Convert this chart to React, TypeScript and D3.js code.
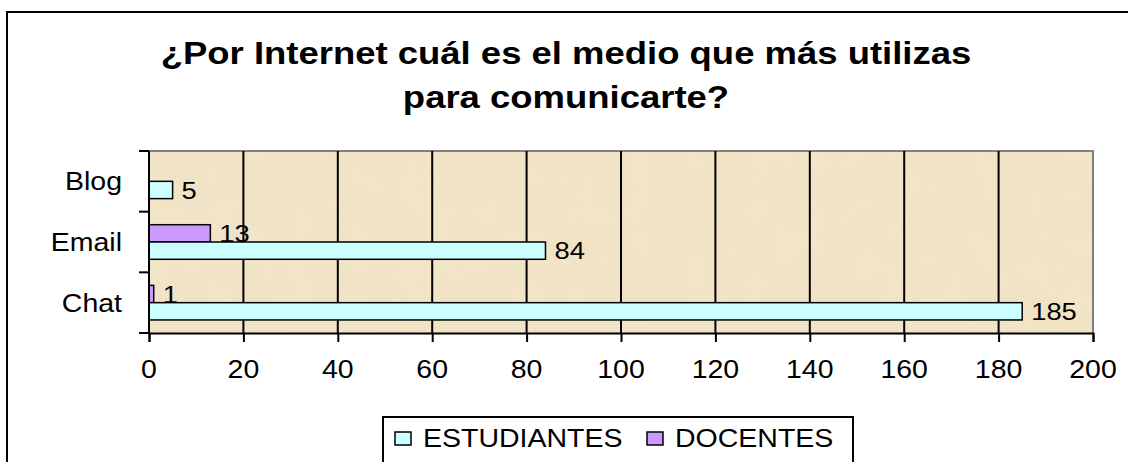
import { useEffect, useRef } from "react";
import * as d3 from "d3";

const categories = ["Blog", "Email", "Chat"];
const series = ["DOCENTES", "ESTUDIANTES"];
const estudiantes = [5, 84, 185];
const docentes: (number | null)[] = [null, 13, 1];
const xTicks = [0, 20, 40, 60, 80, 100, 120, 140, 160, 180, 200];
const titleLines = ["¿Por Internet cuál es el medio que más utilizas", "para comunicarte?"];
const legendItems = ["ESTUDIANTES", "DOCENTES"];

const colors: Record<string, string> = { ESTUDIANTES: "#CCFFFF", DOCENTES: "#CC99FF" };
const font = "'Liberation Sans', Arial, sans-serif";
const SX = 1.14; // the source picture is a little stretched sideways

export default function App() {
  const ref = useRef<SVGSVGElement>(null);
  useEffect(() => {
    if (!ref.current) return;
    const svg = d3.select(ref.current);
    svg.selectAll("*").remove();
    const W = 1128, H = 462;
    const m = { t: 151, r: 35, b: 129, l: 149 };

    // text helper with the horizontal stretch
    const label = (g: any, px: number, py: number, s: string | number, size: number, anchor = "start", bold = false) =>
      g.append("text").attr("transform", `translate(${px},${py}) scale(${SX},1)`)
        .attr("dy", "0.36em").attr("text-anchor", anchor)
        .attr("font-family", font).attr("font-size", size).attr("font-weight", bold ? "bold" : "normal")
        .attr("fill", "#000").text(s);

    const defs = svg.append("defs");
    const f = defs.append("filter").attr("id", "paper").attr("x", 0).attr("y", 0).attr("width", 1).attr("height", 1);
    f.append("feTurbulence").attr("type", "fractalNoise").attr("baseFrequency", 0.035).attr("numOctaves", 3).attr("seed", 4).attr("result", "n");
    f.append("feColorMatrix").attr("in", "n").attr("type", "matrix")
      .attr("values", "0 0 0 0 0.90  0 0 0 0 0.80  0 0 0 0 0.62  0 0 0 0.45 0").attr("result", "c");
    f.append("feFlood").attr("flood-color", "#F1E2C3").attr("result", "bg");
    f.append("feComposite").attr("in", "c").attr("in2", "bg").attr("operator", "over");

    svg.append("rect").attr("x", 0).attr("y", 0).attr("width", W).attr("height", H).attr("fill", "#fff");
    svg.append("rect").attr("x", 7).attr("y", 12).attr("width", W + 20).attr("height", H + 20)
      .attr("fill", "#fff").attr("stroke", "#000").attr("stroke-width", 2);

    const x = d3.scaleLinear().domain([0, 200]).range([m.l, W - m.r]);
    const y = d3.scaleBand<string>().domain(categories).range([m.t, H - m.b]).paddingInner(0.43).paddingOuter(0.215);
    const ySub = d3.scaleBand<string>().domain(series).range([0, y.bandwidth()]);

    const [x0, x1] = x.range();
    const [y0, y1] = [m.t, H - m.b];

    svg.append("rect").attr("x", x0).attr("y", y0).attr("width", x1 - x0).attr("height", y1 - y0)
      .attr("filter", "url(#paper)").attr("fill", "#F0E0BE");
    svg.append("path").attr("d", `M${x0},${y0}H${x1}V${y1}`).attr("fill", "none").attr("stroke", "#808080").attr("stroke-width", 2);

    // vertical gridlines
    svg.append("g").selectAll("line").data(xTicks.slice(1, -1)).join("line")
      .attr("x1", (d) => x(d)).attr("x2", (d) => x(d)).attr("y1", y0).attr("y2", y1)
      .attr("stroke", "#000").attr("stroke-width", 2);

    // bars
    const rows = categories.map((c, i) => ({ c, ESTUDIANTES: estudiantes[i], DOCENTES: docentes[i] }));
    const barG = svg.append("g");
    rows.forEach((r) => {
      series.forEach((s) => {
        const v = (r as any)[s] as number | null;
        if (v == null) return;
        const by = y(r.c)! + ySub(s)!;
        barG.append("rect").attr("x", x(0)).attr("y", by).attr("width", x(v) - x(0)).attr("height", ySub.bandwidth())
          .attr("fill", colors[s]).attr("stroke", "#000").attr("stroke-width", 1.5);
        label(barG, x(v) + 9, by + ySub.bandwidth() / 2, v, 24);
      });
    });

    // axes
    svg.append("g").attr("transform", `translate(0,${y1})`)
      .call(d3.axisBottom(x).tickValues(xTicks).tickSize(9).tickFormat(() => ""))
      .call((g) => g.select(".domain").attr("stroke", "#000").attr("stroke-width", 2))
      .call((g) => g.selectAll(".tick line").attr("stroke", "#000").attr("stroke-width", 2));
    const tickG = svg.append("g");
    xTicks.forEach((t) => label(tickG, x(t), 369, t, 25, "middle"));

    const yTicks = d3.range(categories.length + 1).map((i) => y0 + (i * (y1 - y0)) / categories.length);
    svg.append("line").attr("x1", x0).attr("x2", x0).attr("y1", y0).attr("y2", y1).attr("stroke", "#000").attr("stroke-width", 2);
    svg.append("g").selectAll("line").data(yTicks).join("line")
      .attr("x1", x0 - 10).attr("x2", x0).attr("y1", (d) => d).attr("y2", (d) => d)
      .attr("stroke", "#000").attr("stroke-width", 2);
    const catG = svg.append("g");
    categories.forEach((c) => label(catG, 122, y(c)! + y.bandwidth() / 2, c, 25, "end"));

    // title
    const tg = svg.append("g");
    titleLines.forEach((t, i) => label(tg, 566, 52 + i * 44, t, 32, "middle", true));

    // legend
    const lg = svg.append("g");
    lg.append("rect").attr("x", 383).attr("y", 417).attr("width", 470).attr("height", 60)
      .attr("fill", "#fff").attr("stroke", "#000").attr("stroke-width", 2);
    const lx = [395, 647];
    legendItems.forEach((s, i) => {
      lg.append("rect").attr("x", lx[i]).attr("y", 432).attr("width", 16).attr("height", 13)
        .attr("fill", colors[s]).attr("stroke", "#000").attr("stroke-width", 1.5);
      label(lg, lx[i] + 28, 438, s, 25);
    });
  }, []);
  return <svg ref={ref} width={1128} height={462} style={{ position: "absolute", left: 0, top: 0, display: "block" }} />;
}
